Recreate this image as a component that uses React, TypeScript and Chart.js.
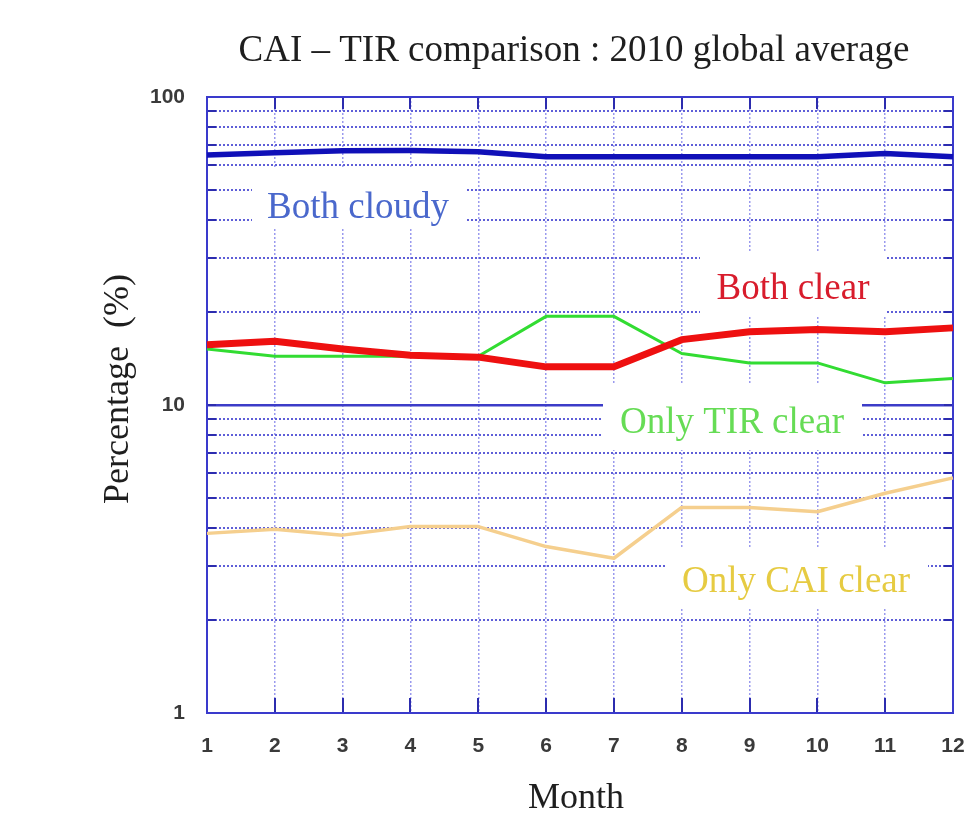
import React, { useEffect, useRef } from "react";
import { Chart, registerables } from "chart.js";

Chart.register(...registerables);

// Months on the horizontal axis
const months = ["1", "2", "3", "4", "5", "6", "7", "8", "9", "10", "11", "12"];

// Monthly percentages of the four CAI / TIR agreement classes
const bothClear = [15.7, 16.1, 15.2, 14.5, 14.3, 13.3, 13.3, 16.3, 17.3, 17.6, 17.3, 17.8];
const bothCloudy = [64.8, 65.9, 66.9, 67.0, 66.4, 64.0, 64.0, 64.0, 64.0, 64.0, 65.6, 64.0];
const onlyTirClear = [15.2, 14.4, 14.4, 14.4, 14.4, 19.4, 19.4, 14.7, 13.7, 13.7, 11.8, 12.2];
const onlyCaiClear = [3.83, 3.95, 3.78, 4.03, 4.03, 3.47, 3.18, 4.65, 4.65, 4.5, 5.17, 5.8];

// Log axis: grid lines at every 1..9 x 10^n, labels only on decades
const yGridValues = [1, 2, 3, 4, 5, 6, 7, 8, 9, 10, 20, 30, 40, 50, 60, 70, 80, 90, 100];
const yTickLabels = [1, 10, 100];

const SERIF = "'Liberation Serif', 'Times New Roman', serif";
const TICK_FONT = "'Liberation Sans', Arial, sans-serif";

// In-plot series names, each on a white patch that hides the grid behind it
const seriesNotes = [
  { text: "Both cloudy", color: "#4a68cc", box: [252, 168, 467, 228], x: 358, y: 218 },
  { text: "Both clear", color: "#d81c2c", box: [700, 252, 887, 316], x: 793, y: 299 },
  { text: "Only TIR clear", color: "#66dc55", box: [603, 385, 862, 450], x: 732, y: 433 },
  { text: "Only CAI clear", color: "#e6cb42", box: [667, 547, 928, 607], x: 796, y: 592 },
];

const decorPlugin = {
  id: "decor",
  beforeDatasetsDraw(chart: any) {
    const { ctx, chartArea: a, scales } = chart;
    ctx.save();
    // white label patches and their text
    for (const n of seriesNotes) {
      const [x0, y0, x1, y1] = n.box;
      ctx.fillStyle = "#ffffff";
      ctx.fillRect(x0, y0, x1 - x0, y1 - y0);
      ctx.fillStyle = n.color;
      ctx.font = `37px ${SERIF}`;
      ctx.textAlign = "center";
      ctx.textBaseline = "alphabetic";
      ctx.fillText(n.text, n.x, n.y);
    }
    // inner tick marks on all four sides
    ctx.strokeStyle = "#2c2cae";
    ctx.lineWidth = 2;
    ctx.beginPath();
    for (const v of yGridValues) {
      const py = Math.round(scales.y.getPixelForValue(v));
      ctx.moveTo(a.left, py);
      ctx.lineTo(a.left + 9, py);
      ctx.moveTo(a.right, py);
      ctx.lineTo(a.right - 9, py);
    }
    months.forEach((_, i) => {
      const px = Math.round(scales.x.getPixelForValue(i));
      ctx.moveTo(px, a.bottom);
      ctx.lineTo(px, a.bottom - 15);
      ctx.moveTo(px, a.top);
      ctx.lineTo(px, a.top + 12);
    });
    ctx.stroke();
    // plot frame
    ctx.strokeStyle = "#3a3acc";
    ctx.lineWidth = 2;
    ctx.strokeRect(a.left, a.top, a.right - a.left, a.bottom - a.top);
    ctx.restore();
  },
  afterDraw(chart: any) {
    const { ctx } = chart;
    ctx.save();
    ctx.fillStyle = "#1e1e1e";
    ctx.textAlign = "center";
    ctx.textBaseline = "alphabetic";
    ctx.font = `37px ${SERIF}`;
    ctx.fillText("CAI \u2013 TIR comparison : 2010 global average", 574, 61);
    ctx.font = `36px ${SERIF}`;
    ctx.fillText("Month", 576, 808);
    ctx.translate(128, 389);
    ctx.rotate(-Math.PI / 2);
    ctx.fillText("Percentage  (%)", 0, 0);
    ctx.restore();
  },
};

export default function App() {
  const ref = useRef<HTMLCanvasElement | null>(null);

  useEffect(() => {
    if (!ref.current) return;
    const chart = new Chart(ref.current, {
      type: "line",
      data: {
        labels: months,
        datasets: [
          { label: "Both clear", data: bothClear, borderColor: "#ee1010", borderWidth: 7 },
          { label: "Both cloudy", data: bothCloudy, borderColor: "#1010b8", borderWidth: 5.5 },
          { label: "Only TIR clear", data: onlyTirClear, borderColor: "#32dc32", borderWidth: 3 },
          { label: "Only CAI clear", data: onlyCaiClear, borderColor: "#f5cf8e", borderWidth: 3.5 },
        ].map((d) => ({ ...d, pointRadius: 0, tension: 0, fill: false, borderJoinStyle: "round" as const })),
      },
      options: {
        responsive: false,
        animation: false,
        events: [],
        layout: { padding: { left: 0, top: 97, right: 26, bottom: 0 } },
        plugins: { legend: { display: false }, title: { display: false }, tooltip: { enabled: false } },
        scales: {
          x: {
            type: "category",
            offset: false,
            afterFit: (s: any) => {
              s.height = 102;
              s.paddingLeft = 0;
              s.paddingRight = 0;
            },
            grid: {
              color: "#9a9aee",
              lineWidth: 1.5,
              drawTicks: false,
            },
            border: { display: false, dash: [2, 2] },
            ticks: {
              padding: 21,
              color: "#3a3a3a",
              font: { family: TICK_FONT, size: 21, weight: "bold" },
              autoSkip: false,
              maxRotation: 0,
            },
          },
          y: {
            type: "logarithmic",
            min: 1,
            max: 100,
            afterFit: (s: any) => {
              s.width = 207;
              s.paddingTop = 0;
              s.paddingBottom = 0;
            },
            afterBuildTicks: (s: any) => {
              s.ticks = yGridValues.map((v) => ({ value: v, major: yTickLabels.includes(v) }));
            },
            grid: {
              color: (c: any) => (c.tick && c.tick.value === 10 ? "#3c3cc8" : "#5e5ed8"),
              lineWidth: (c: any) => (c.tick && c.tick.value === 10 ? 2.4 : 2),
              drawTicks: false,
            },
            border: {
              display: false,
              dash: (c: any) => (c.tick && c.tick.value === 10 ? [] : [2, 2]),
            },
            ticks: {
              padding: 22,
              color: "#3a3a3a",
              font: { family: TICK_FONT, size: 21, weight: "bold" },
              autoSkip: false,
              callback: (v: any) => (yTickLabels.includes(Number(v)) ? String(v) : ""),
            },
          },
        },
      },
      plugins: [decorPlugin],
    });
    return () => chart.destroy();
  }, []);

  return (
    <div style={{ position: "fixed", left: 0, top: 0, width: 979, height: 815, background: "#fff" }}>
      <canvas ref={ref} width={979} height={815} style={{ display: "block" }} />
    </div>
  );
}
